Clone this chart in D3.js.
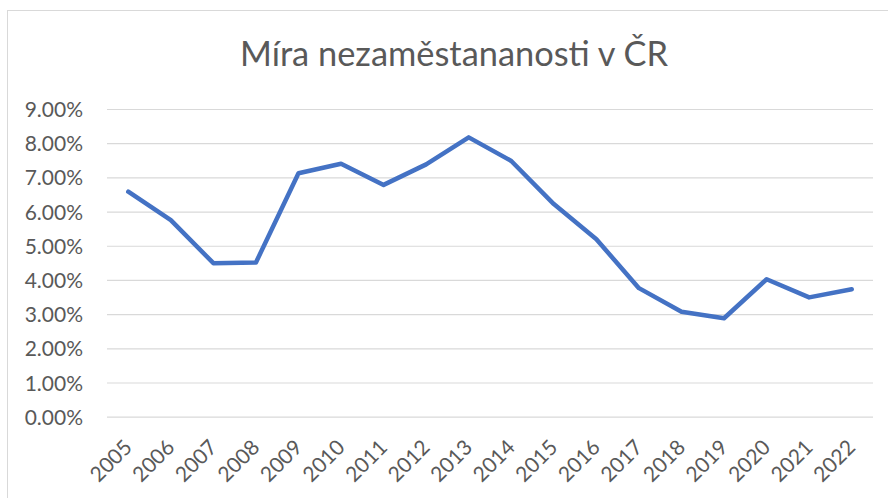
<!DOCTYPE html>
<html>
<head>
<meta charset="utf-8">
<script src="https://cdn.jsdelivr.net/npm/d3@7"></script>
<style>
  html, body { margin: 0; padding: 0; background: #fff; }
  svg { display: block; }
  text { font-family: Lato, "Open Sans", sans-serif; fill: #595959; }
</style>
</head>
<body>
<svg id="chart" width="888" height="498"></svg>
<script>
const title = "Míra nezaměstananosti v ČR";
const years = ["2005","2006","2007","2008","2009","2010","2011","2012","2013","2014","2015","2016","2017","2018","2019","2020","2021","2022"];
const rates = [0.0658,0.0575,0.0449,0.0451,0.0712,0.0740,0.0678,0.0738,0.0817,0.0748,0.0622,0.0519,0.0376,0.0307,0.0288,0.0402,0.0349,0.0373];
const yTicks = [0,0.01,0.02,0.03,0.04,0.05,0.06,0.07,0.08,0.09];

const svg = d3.select("#chart");
const W = 888, H = 498;
const m = { left: 107, right: 873, top: 109, bottom: 416.7 };

svg.append("rect").attr("x", 7.5).attr("y", 10.5).attr("width", W).attr("height", H)
  .attr("fill", "#fff").attr("stroke", "#d9d9d9").attr("stroke-width", 1);

svg.append("text").attr("x", 454).attr("y", 66).attr("text-anchor", "middle")
  .style("font-size", "34.4px").text(title);

const x = d3.scaleBand().domain(years).range([m.left, m.right]);
const y = d3.scaleLinear().domain([0, 0.09]).range([m.bottom, m.top]);

const gy = svg.append("g").attr("transform", `translate(${m.left},0)`)
  .call(d3.axisLeft(y).tickValues(yTicks).tickFormat(d3.format(".2%"))
    .tickSize(-(m.right - m.left)).tickPadding(24));
gy.select(".domain").remove();
gy.selectAll(".tick line").attr("stroke", "#d9d9d9").attr("stroke-width", 1.2);
gy.selectAll(".tick text").style("font-size", "21px").attr("fill", "#595959")
  .attr("font-family", "Lato").attr("dy", "0.36em");

const gx = svg.append("g").attr("transform", `translate(0,${m.bottom})`)
  .call(d3.axisBottom(x).tickSize(0));
gx.select(".domain").remove();
gx.selectAll(".tick text")
  .style("font-size", "21px").attr("fill", "#595959").attr("font-family", "Lato")
  .attr("text-anchor", "end")
  .attr("x", 0).attr("y", 0).attr("dy", 0)
  .attr("transform", "translate(5,32) rotate(-45)");

const line = d3.line().x((d, i) => x(years[i]) + x.bandwidth() / 2).y(d => y(d));
svg.append("path").datum(rates).attr("d", line)
  .attr("fill", "none").attr("stroke", "#4472C4").attr("stroke-width", 4.5)
  .attr("stroke-linejoin", "round").attr("stroke-linecap", "round");
</script>
</body>
</html>
